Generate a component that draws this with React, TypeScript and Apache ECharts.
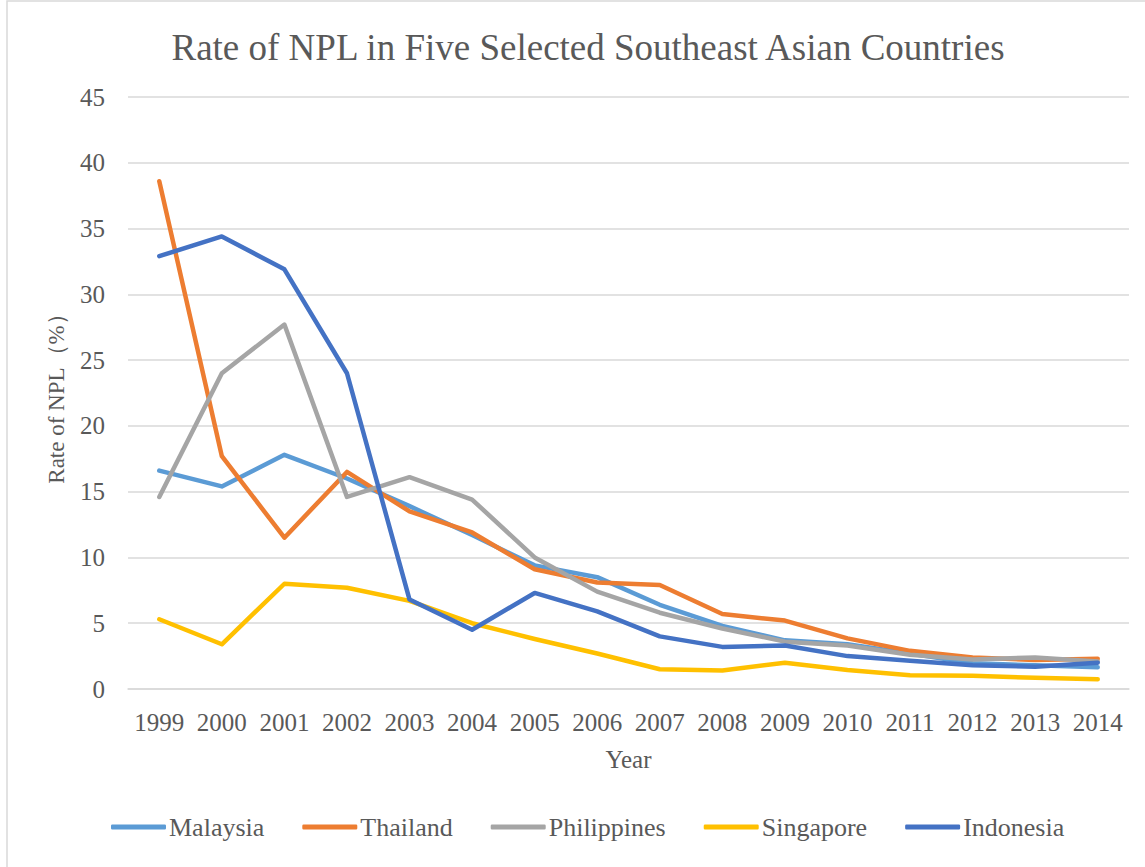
import React, { useEffect, useRef } from "react";
import * as echarts from "echarts";

const years = ["1999","2000","2001","2002","2003","2004","2005","2006","2007","2008","2009","2010","2011","2012","2013","2014"];
const malaysia = [16.6, 15.4, 17.8, 16.0, 13.9, 11.7, 9.4, 8.5, 6.4, 4.8, 3.7, 3.4, 2.7, 1.95, 1.8, 1.65];
const thailand = [38.6, 17.7, 11.5, 16.5, 13.5, 11.9, 9.1, 8.1, 7.9, 5.7, 5.2, 3.85, 2.9, 2.4, 2.2, 2.3];
const philippines = [14.6, 24.0, 27.7, 14.6, 16.1, 14.4, 10.0, 7.4, 5.8, 4.6, 3.6, 3.3, 2.6, 2.25, 2.4, 2.1];
const singapore = [5.3, 3.4, 8.0, 7.7, 6.7, 5.0, 3.8, 2.7, 1.5, 1.4, 2.0, 1.45, 1.05, 1.0, 0.85, 0.75];
const indonesia = [32.9, 34.4, 31.9, 24.0, 6.8, 4.5, 7.3, 5.9, 4.0, 3.2, 3.3, 2.5, 2.15, 1.8, 1.7, 2.0];

const seriesDefs = [
  { name: "Malaysia", data: malaysia, color: "#5B9BD5" },
  { name: "Thailand", data: thailand, color: "#ED7D31" },
  { name: "Philippines", data: philippines, color: "#A5A5A5" },
  { name: "Singapore", data: singapore, color: "#FFC000" },
  { name: "Indonesia", data: indonesia, color: "#4472C4" },
];

const FONT = '"Liberation Serif", "Times New Roman", serif';
const TXT = "#595959";

export default function App() {
  const ref = useRef<HTMLDivElement>(null);
  useEffect(() => {
    if (!ref.current) return;
    const chart = echarts.init(ref.current, null, { renderer: "svg" });
    chart.setOption({
      animation: false,
      backgroundColor: "#ffffff",
      textStyle: { fontFamily: FONT },
      title: {
        text: "Rate of NPL in Five Selected Southeast Asian Countries",
        left: 583,
        top: 24,
        textAlign: "center",
        textStyle: { fontFamily: FONT, fontSize: 37, fontWeight: "normal", color: TXT },
      },
      graphic: [
        {
          type: "rect",
          shape: { x: 7, y: 1, width: 1160, height: 880 },
          style: { fill: "none", stroke: "#d9d9d9", lineWidth: 1.5 },
          silent: true,
        },
      ],
      legend: {
        bottom: 22,
        left: 106,
        padding: 5,
        itemWidth: 55,
        itemHeight: 5,
        itemGap: 38,
        icon: "roundRect",
        textStyle: { fontFamily: FONT, fontSize: 26, color: TXT, padding: [0, 0, 0, -2] },
        data: seriesDefs.map((s) => s.name),
      },
      grid: { left: 128, right: 16, top: 97, bottom: 178, containLabel: false },
      xAxis: {
        type: "category",
        data: years,
        boundaryGap: true,
        name: "Year",
        nameLocation: "middle",
        nameGap: 58,
        nameTextStyle: { fontFamily: FONT, fontSize: 25, color: TXT },
        axisLine: { lineStyle: { color: "#d9d9d9", width: 1.5 } },
        axisTick: { show: false },
        axisLabel: { fontFamily: FONT, fontSize: 25, color: TXT, margin: 21, interval: 0, hideOverlap: false },
      },
      yAxis: {
        type: "value",
        min: 0,
        max: 45,
        interval: 5,
        name: "Rate of NPL（%）",
        nameLocation: "middle",
        nameGap: 60,
        nameTextStyle: { fontFamily: FONT, fontSize: 23, color: TXT },
        axisLine: { show: false },
        axisTick: { show: false },
        axisLabel: { fontFamily: FONT, fontSize: 25, color: TXT, margin: 23 },
        splitLine: { lineStyle: { color: "#d9d9d9", width: 1.5 } },
      },
      series: seriesDefs.map((s) => ({
        name: s.name,
        type: "line",
        data: s.data,
        symbol: "none",
        color: s.color,
        lineStyle: { color: s.color, width: 4.5, cap: "round", join: "round" },
        itemStyle: { color: s.color },
      })),
    });
    return () => chart.dispose();
  }, []);
  return (
    <div
      ref={ref}
      style={{ position: "fixed", left: 0, top: 0, width: 1145, height: 867 }}
    />
  );
}
